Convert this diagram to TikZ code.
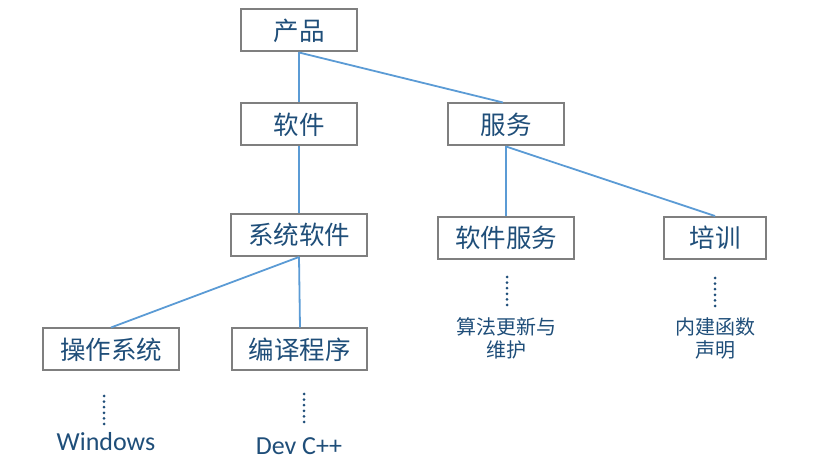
\documentclass[tikz,border=0pt]{standalone}
\usepackage{fontspec}
\newfontfamily\cjk{Noto Sans CJK SC}
\newfontfamily\latinsans{Carlito}
\definecolor{txtblue}{HTML}{1F4E79}
\definecolor{lineblue}{HTML}{5B9BD5}
\definecolor{boxgray}{HTML}{7F7F7F}
\begin{document}
\begin{tikzpicture}[x=1pt,y=-1pt,
  box/.style={draw=boxgray,line width=2pt,minimum height=42pt,inner sep=0pt,
    text=txtblue,font=\cjk\fontsize{25.5}{28}\selectfont},
  conn/.style={draw=lineblue,line width=1.8pt},
  dots/.style={draw=txtblue,line width=3pt,line cap=round,dash pattern=on 0pt off 5.6pt},
  note/.style={text=txtblue,font=\cjk\fontsize{20}{23}\selectfont,align=center,inner sep=0pt},
  eng/.style={text=txtblue,font=\latinsans\fontsize{26}{28}\selectfont,inner sep=0pt}]
\useasboundingbox (0,0) rectangle (815,473);
\node[box,minimum width=116pt] (prod) at (299,30.5) {产品};
\node[box,minimum width=116pt] (soft) at (299,124.5) {软件};
\node[box,minimum width=116pt] (serv) at (506,124.5) {服务};
\node[box,minimum width=136pt] (sys) at (299,235) {系统软件};
\node[box,minimum width=136pt] (ssrv) at (506,238) {软件服务};
\node[box,minimum width=102pt] (train) at (715,238) {培训};
\node[box,minimum width=136pt] (os) at (111,349.5) {操作系统};
\node[box,minimum width=135pt] (comp) at (299.5,349.5) {编译程序};
\draw[conn] (prod.south) -- (soft.north);
\draw[conn] (prod.south) -- ([xshift=-3pt]serv.north);
\draw[conn] (serv.south) -- (ssrv.north);
\draw[conn] (serv.south) -- (train.north);
\draw[conn] (soft.south) -- (sys.north);
\draw[conn] (sys.south) -- (os.north);
\draw[conn] (sys.south) -- ([xshift=0.5pt]comp.north);
\node[eng] (win) at (106,442) {Windows};
\node[eng] (dev) at (299,446) {Dev C++};
\node[note] (alg) at (506,338.5) {算法更新与\\维护};
\node[note] (func) at (715,338.5) {内建函数\\声明};
\coordinate (d1a) at (104,396); \coordinate (d1b) at (104,425);
\coordinate (d2a) at (304,394); \coordinate (d2b) at (304,423);
\coordinate (d3a) at (507,277); \coordinate (d3b) at (507,306);
\coordinate (d4a) at (715,278); \coordinate (d4b) at (715,307);
\draw[dots] (d1a) -- (d1b);
\draw[dots] (d2a) -- (d2b);
\draw[dots] (d3a) -- (d3b);
\draw[dots] (d4a) -- (d4b);
\end{tikzpicture}
\end{document}
